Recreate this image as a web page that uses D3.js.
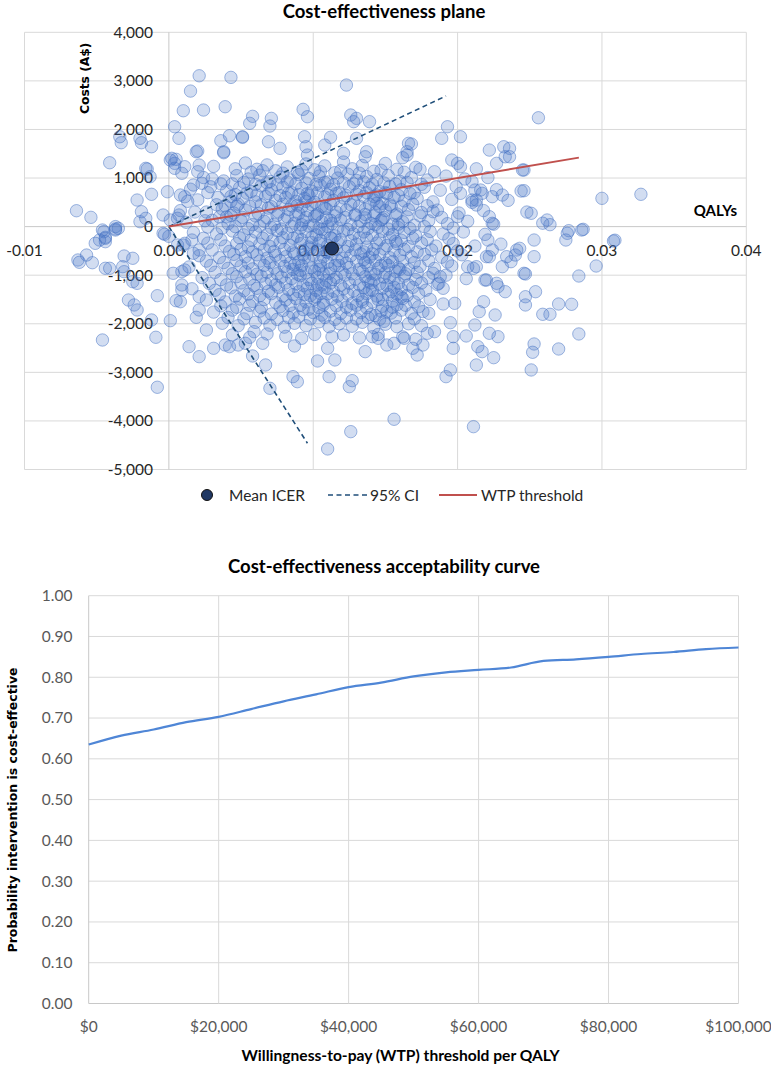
<!DOCTYPE html>
<html><head><meta charset="utf-8">
<script src="https://cdn.jsdelivr.net/npm/d3@7"></script>
<style>body{margin:0;background:#fff} svg{display:block}</style>
</head><body><svg id="c" width="771" height="1066"></svg>
<script>
// ---------------- DATA ----------------
// PSA iterations: [incremental QALYs, incremental costs (A$)]
const psaPoints = [
// upper / left outliers
[0.0021,3105],[0.0043,3072],[0.0015,2790],[0.0010,2385],[0.0024,2400],[0.0039,2468],[0.0058,2270],[0.0004,2056],[0.0007,1817],[-0.0034,1850],[-0.0033,1727],[-0.0020,1817],[-0.0019,1727],[-0.0012,1644],[-0.0041,1315],[0.0020,1556],[0.0036,1768],[0.0042,1871],[0.0038,1521],[0.0051,1838],[0.0001,1371],[0.0005,1385],[0.0004,1200],[0.0011,1233],[0.0009,1097],[-0.0015,1185],[-0.0013,1027],[0.0021,1268],[0.0020,1130],[0.0023,891],[0.0017,856],[-0.0001,718],[-0.0012,665],[-0.0022,547],[0.0008,650],[0.0011,615],[-0.0064,327],[-0.0054,191],[-0.0037,-49],[-0.0045,-105],[-0.0048,-276],[-0.0044,-241],[-0.0019,307],[-0.0020,101],[-0.0004,239],[0.0001,136],[0.0006,171],[-0.0004,-138],
[-0.0016,1200],[-0.0016,171],[0.0002,1406],[0.0004,1302],[0.0019,1541],[0.0007,239],[-0.0035,-35],[-0.0046,-70],[-0.0037,0],[-0.0044,-310],[-0.0063,-687],
[0.0013,520],[0.0027,700],[0.0033,450],[0.0018,300],[0.0025,120],[0.0036,880],[0.0043,620],[0.0030,980],[0.0047,420],[0.0040,200],
// upper middle / right
[0.0123,2914],[0.0126,2297],[0.0130,2228],[0.0139,2160],[0.0128,2160],[0.0093,2414],[0.0096,2262],[0.0056,2126],[0.0071,2228],[0.0070,2070],[0.0193,2056],[0.0202,1850],[0.0189,1817],[0.0256,2241],[0.0051,1850],[0.0038,1541],[0.0094,1850],[0.0095,1644],[0.0096,1473],[0.0069,1747],[0.0077,1611],[0.0112,1838],[0.0108,1679],[0.0121,1508],[0.0130,1817],[0.0166,1714],[0.0168,1700],[0.0165,1541],[0.0165,1473],[0.0162,1418],[0.0137,1541],[0.0136,1438],[0.0222,1576],[0.0232,1644],[0.0233,1438],[0.0227,1302],[0.0200,1302],[0.0202,1233],[0.0196,1371],[0.0246,1165],[0.0210,924],[0.0212,753],[0.0217,685],[0.0246,739],[0.0300,582],[0.0327,665],[0.0262,136],[0.0264,40],[0.0259,70],[0.0277,-84],[0.0287,-56],[0.0309,-280],[0.0174,1179],[0.0213,547],[0.0213,445],[0.0236,1438],[0.0236,1611],[0.0245,1165],[0.0244,733],
[0.0202,685],[0.0210,547],[0.0216,753],[0.0224,616],[0.0231,650],[0.0222,204],[0.0224,68],[0.0251,274],[0.0200,204],[0.0183,307],
// lower left
[-0.0062,-735],[-0.0057,-585],[-0.0053,-743],[-0.0051,-344],[-0.0044,-858],[-0.0041,-858],[-0.0044,-220],[-0.0037,-70],[-0.0031,-605],[-0.0025,-652],[-0.0032,-825],[-0.0031,-928],[-0.0025,-1134],[-0.0022,-1167],[-0.0028,-1511],[-0.0024,-1613],[-0.0022,-1716],[-0.0008,-1422],[-0.0012,-1922],[-0.0009,-2278],[-0.0046,-2334],[-0.0008,-3307],[0.0001,-1936],[0.0005,-1525],[0.0008,-1546],[0.0003,-961],[0.0009,-928],[0.0011,-893],[0.0009,-1202],[0.0009,-1305],[0.0014,-2471],[0.0021,-2677],[0.0019,-1867],[0.0021,-1716],[0.0026,-2128],[0.0021,-1443],[0.0031,-2505],[0.0039,-2437],[0.0042,-2471],[0.0048,-2437],[0.0053,-2402],[0.0058,-2663],
[-0.0003,-160],[0.0000,-200],[0.0011,-344],[0.0016,-276],[0.0021,-481],[0.0017,-549],[0.0006,-379],
// lower middle
[0.0110,-4577],[0.0126,-4221],[0.0156,-3966],[0.0211,-4118],[0.0086,-3089],[0.0089,-3192],[0.0070,-3328],[0.0111,-3089],[0.0127,-3171],[0.0125,-3295],[0.0067,-2848],[0.0192,-3089],[0.0195,-2951],[0.0213,-2848],[0.0225,-2698],[0.0115,-2745],[0.0103,-2766],[0.0110,-2505],[0.0136,-2574],[0.0087,-2457],[0.0065,-2402],[0.0059,-2163],[0.0172,-2643],[0.0169,-2505],[0.0176,-2437],[0.0197,-2505],[0.0197,-2266],[0.0206,-2251],[0.0214,-2471],[0.0217,-2574],[0.0222,-2196],[0.0228,-2266],[0.0212,-2025],[0.0195,-1977],[0.0184,-2163],[0.0179,-2196],[0.0163,-2299],[0.0156,-2402],[0.0151,-2437],[0.0145,-2299],[0.0141,-2266],[0.0226,-1819],[0.0215,-1751],[0.0218,-1546],[0.0233,-1340],[0.0227,-1167],[0.0220,-1099],[0.0198,-1579],[0.0190,-1593],[0.0180,-1784],[0.0188,-1031],[0.0187,-1167],[0.0207,-825],[0.0213,-825],[0.0220,-619],
[0.0221,-276],[0.0224,-481],[0.0234,-619],[0.0241,-481],[0.0253,-619],[0.0231,-825],[0.0246,-961],[0.0219,-1099],[0.0228,-1237],
// right
[0.0308,-296],[0.0296,-811],[0.0284,-1017],[0.0279,-1599],[0.0270,-1593],[0.0264,-1805],[0.0259,-1805],[0.0254,-1340],[0.0247,-1443],[0.0247,-1613],[0.0247,-975],[0.0284,-2210],[0.0253,-2416],[0.0252,-2587],[0.0270,-2519],[0.0251,-2951],[0.0275,-276],[0.0276,-138],[0.0286,-70],[0.0253,-276],[0.0243,-447],[0.0240,-585],[0.0237,-722],
// core cloud
[0.0031,1240],[0.0046,1190],[0.0053,1310],[0.0061,1180],[0.0068,1270],[0.0074,1150],[0.0082,1230],[0.0089,1120],[0.0095,1290],[0.0101,1170],[0.0108,1250],[0.0115,1110],[0.0121,1330],[0.0127,1190],[0.0134,1260],[0.0142,1140],[0.0150,1300],[0.0158,1180],[0.0171,1220],[0.0184,1130],[0.0213,1190],
[0.0024,1010],[0.0038,940],[0.0047,1050],[0.0055,980],[0.0063,1060],[0.0070,930],[0.0077,1020],[0.0084,960],[0.0090,1070],[0.0097,990],[0.0104,1040],[0.0110,920],[0.0117,1000],[0.0124,1080],[0.0130,950],[0.0137,1030],[0.0144,970],[0.0152,1050],[0.0160,930],[0.0168,1010],[0.0179,960],[0.0192,1040],[0.0205,980],[0.0221,1010],
[0.0015,770],[0.0029,820],[0.0040,740],[0.0049,800],[0.0057,720],[0.0064,840],[0.0071,760],[0.0079,810],[0.0085,700],[0.0092,790],[0.0099,730],[0.0105,850],[0.0112,770],[0.0118,700],[0.0125,820],[0.0132,740],[0.0139,800],[0.0146,720],[0.0153,830],[0.0161,760],[0.0170,700],[0.0177,810],[0.0188,750],[0.0199,820],[0.0227,760],
[0.0020,550],[0.0034,600],[0.0043,520],[0.0051,580],[0.0060,510],[0.0067,620],[0.0074,540],[0.0081,600],[0.0088,520],[0.0094,580],[0.0101,500],[0.0108,610],[0.0114,540],[0.0121,590],[0.0128,510],[0.0135,620],[0.0142,550],[0.0148,480],[0.0156,600],[0.0163,530],[0.0172,580],[0.0183,510],[0.0196,560],[0.0210,500],[0.0235,540],
[0.0008,330],[0.0026,300],[0.0037,360],[0.0045,280],[0.0053,340],[0.0062,270],[0.0069,380],[0.0076,300],[0.0083,350],[0.0090,270],[0.0096,330],[0.0103,260],[0.0109,370],[0.0116,300],[0.0123,340],[0.0129,250],[0.0136,360],[0.0143,290],[0.0150,330],[0.0158,260],[0.0166,350],[0.0175,290],[0.0186,340],[0.0201,280],[0.0218,330],[0.0248,300],
[0.0012,90],[0.0030,130],[0.0041,60],[0.0050,120],[0.0058,40],[0.0066,110],[0.0073,50],[0.0080,140],[0.0087,70],[0.0093,120],[0.0100,30],[0.0106,100],[0.0113,60],[0.0119,140],[0.0126,40],[0.0133,110],[0.0140,70],[0.0147,130],[0.0155,50],[0.0162,100],[0.0170,30],[0.0180,120],[0.0193,60],[0.0207,110],[0.0225,50],
[0.0017,-120],[0.0033,-150],[0.0044,-90],[0.0052,-170],[0.0060,-110],[0.0068,-160],[0.0075,-80],[0.0082,-140],[0.0089,-200],[0.0095,-100],[0.0102,-170],[0.0108,-120],[0.0115,-190],[0.0121,-90],[0.0128,-150],[0.0135,-110],[0.0141,-180],[0.0148,-100],[0.0155,-160],[0.0163,-120],[0.0171,-190],[0.0181,-100],[0.0190,-150],[0.0204,-110],[0.0219,-160],
[0.0010,-380],[0.0027,-340],[0.0039,-400],[0.0047,-350],[0.0055,-420],[0.0063,-360],[0.0070,-410],[0.0077,-330],[0.0084,-390],[0.0091,-350],[0.0097,-420],[0.0104,-340],[0.0110,-390],[0.0117,-330],[0.0124,-410],[0.0130,-360],[0.0137,-420],[0.0144,-340],[0.0151,-390],[0.0158,-350],[0.0166,-410],[0.0175,-340],[0.0185,-400],[0.0197,-350],[0.0212,-400],[0.0230,-360],
[0.0021,-600],[0.0035,-640],[0.0045,-570],[0.0053,-620],[0.0061,-580],[0.0068,-650],[0.0074,-590],[0.0081,-620],[0.0087,-560],[0.0094,-640],[0.0100,-590],[0.0107,-620],[0.0113,-570],[0.0120,-650],[0.0126,-600],[0.0133,-560],[0.0139,-630],[0.0146,-580],[0.0153,-640],[0.0160,-590],[0.0168,-620],[0.0177,-570],[0.0189,-630],[0.0203,-580],[0.0222,-620],
[0.0014,-830],[0.0029,-800],[0.0041,-860],[0.0050,-810],[0.0058,-870],[0.0066,-800],[0.0073,-850],[0.0080,-820],[0.0086,-880],[0.0092,-800],[0.0099,-850],[0.0105,-810],[0.0112,-870],[0.0118,-800],[0.0125,-840],[0.0132,-880],[0.0138,-810],[0.0145,-860],[0.0152,-800],[0.0159,-850],[0.0166,-880],[0.0174,-820],[0.0184,-860],[0.0196,-810],[0.0211,-860],
[0.0023,-1050],[0.0036,-1090],[0.0047,-1030],[0.0056,-1080],[0.0064,-1020],[0.0071,-1100],[0.0078,-1040],[0.0085,-1070],[0.0091,-1010],[0.0097,-1090],[0.0103,-1040],[0.0109,-1110],[0.0116,-1050],[0.0122,-1000],[0.0129,-1080],[0.0136,-1030],[0.0142,-1100],[0.0149,-1040],[0.0156,-1080],[0.0163,-1020],[0.0171,-1090],[0.0180,-1050],[0.0192,-1000],[0.0206,-1070],
[0.0016,-1280],[0.0032,-1310],[0.0043,-1260],[0.0052,-1320],[0.0061,-1270],[0.0069,-1330],[0.0076,-1250],[0.0083,-1300],[0.0090,-1340],[0.0096,-1270],[0.0102,-1310],[0.0108,-1250],[0.0114,-1330],[0.0121,-1280],[0.0128,-1320],[0.0135,-1260],[0.0141,-1310],[0.0148,-1270],[0.0154,-1340],[0.0161,-1290],[0.0169,-1250],[0.0178,-1310],[0.0190,-1270],
[0.0026,-1510],[0.0039,-1550],[0.0049,-1490],[0.0058,-1540],[0.0066,-1500],[0.0074,-1560],[0.0081,-1510],[0.0088,-1480],[0.0095,-1550],[0.0101,-1500],[0.0107,-1560],[0.0113,-1490],[0.0120,-1530],[0.0127,-1580],[0.0134,-1500],[0.0141,-1550],[0.0148,-1490],[0.0155,-1530],[0.0162,-1480],[0.0170,-1550],[0.0181,-1500],
[0.0031,-1760],[0.0044,-1720],[0.0054,-1790],[0.0063,-1740],[0.0071,-1800],[0.0079,-1730],[0.0086,-1780],[0.0093,-1710],[0.0100,-1770],[0.0106,-1820],[0.0112,-1740],[0.0119,-1790],[0.0126,-1720],[0.0133,-1770],[0.0140,-1810],[0.0147,-1740],[0.0154,-1780],[0.0161,-1720],[0.0168,-1790],[0.0176,-1750],
[0.0037,-1990],[0.0048,-2040],[0.0060,-1970],[0.0070,-2030],[0.0080,-2070],[0.0087,-1990],[0.0095,-2040],[0.0104,-1960],[0.0111,-2060],[0.0118,-2000],[0.0127,-2050],[0.0134,-1970],[0.0142,-2080],[0.0150,-2010],[0.0158,-2060],[0.0166,-2000],[0.0175,-2040],
[0.0044,-2230],[0.0056,-2280],[0.0068,-2210],[0.0081,-2260],[0.0092,-2300],[0.0101,-2220],[0.0113,-2270],[0.0121,-2230],[0.0132,-2290],[0.0145,-2220],[0.0162,-2270],[0.0171,-2320],
// core cloud, in-between rows
[0.0057,1120],[0.0065,1150],[0.0079,1100],[0.0092,1160],[0.0105,1130],[0.0119,1150],[0.0132,1100],[0.0147,1160],[0.0163,1120],
[0.0044,880],[0.0052,910],[0.0060,870],[0.0068,900],[0.0075,860],[0.0082,920],[0.0088,880],[0.0095,900],[0.0102,870],[0.0108,910],[0.0114,860],[0.0121,900],[0.0128,880],[0.0135,920],[0.0141,870],[0.0149,900],[0.0157,880],[0.0165,910],[0.0175,870],
[0.0046,660],[0.0054,690],[0.0061,650],[0.0069,680],[0.0077,640],[0.0083,690],[0.0090,660],[0.0097,640],[0.0103,690],[0.0110,650],[0.0116,680],[0.0123,640],[0.0130,670],[0.0137,700],[0.0144,650],[0.0151,680],[0.0159,640],[0.0167,680],
[0.0039,430],[0.0048,460],[0.0056,420],[0.0064,450],[0.0071,410],[0.0079,460],[0.0085,430],[0.0092,400],[0.0099,450],[0.0106,420],[0.0112,460],[0.0119,410],[0.0126,450],[0.0132,420],[0.0139,460],[0.0146,410],[0.0153,450],[0.0161,420],[0.0169,460],[0.0179,430],
[0.0035,200],[0.0043,230],[0.0051,190],[0.0060,220],[0.0068,180],[0.0075,230],[0.0082,200],[0.0088,240],[0.0095,190],[0.0102,230],[0.0109,180],[0.0115,220],[0.0122,190],[0.0129,230],[0.0136,180],[0.0142,220],[0.0149,190],[0.0157,230],[0.0165,200],[0.0174,220],[0.0189,190],
[0.0027,-10],[0.0037,-30],[0.0046,0],[0.0055,-40],[0.0063,10],[0.0071,-20],[0.0078,-50],[0.0085,0],[0.0091,-30],[0.0097,10],[0.0104,-40],[0.0110,0],[0.0117,-30],[0.0124,-60],[0.0131,0],[0.0138,-40],[0.0145,-10],[0.0152,-50],[0.0159,-20],[0.0167,-40],[0.0177,0],[0.0197,-30],
[0.0024,-240],[0.0036,-270],[0.0049,-230],[0.0057,-280],[0.0065,-240],[0.0072,-290],[0.0079,-230],[0.0092,-270],[0.0099,-220],[0.0105,-280],[0.0112,-230],[0.0119,-270],[0.0126,-290],[0.0132,-230],[0.0146,-270],[0.0153,-230],[0.0161,-280],[0.0169,-240],[0.0179,-270],[0.0194,-250],
[0.0030,-480],[0.0042,-510],[0.0050,-470],[0.0058,-520],[0.0066,-480],[0.0073,-510],[0.0080,-470],[0.0086,-520],[0.0093,-490],[0.0103,-480],[0.0110,-530],[0.0116,-470],[0.0122,-510],[0.0129,-480],[0.0135,-520],[0.0142,-470],[0.0156,-500],[0.0163,-470],[0.0172,-520],[0.0182,-480],[0.0200,-500],
[0.0026,-710],[0.0038,-740],[0.0047,-700],[0.0055,-750],[0.0063,-710],[0.0070,-740],[0.0077,-700],[0.0084,-750],[0.0090,-720],[0.0097,-690],[0.0110,-740],[0.0117,-700],[0.0123,-750],[0.0130,-710],[0.0136,-740],[0.0143,-700],[0.0150,-750],[0.0162,-710],[0.0170,-740],[0.0180,-700],[0.0193,-730],
[0.0032,-940],[0.0044,-970],[0.0053,-930],[0.0061,-980],[0.0068,-940],[0.0075,-970],[0.0082,-930],[0.0089,-980],[0.0095,-950],[0.0101,-920],[0.0107,-980],[0.0120,-940],[0.0127,-970],[0.0134,-930],[0.0143,-980],[0.0150,-950],[0.0157,-920],[0.0164,-970],[0.0172,-940],[0.0183,-960],
[0.0028,-1170],[0.0040,-1200],[0.0050,-1160],[0.0059,-1210],[0.0067,-1170],[0.0074,-1200],[0.0081,-1160],[0.0093,-1210],[0.0099,-1170],[0.0106,-1200],[0.0112,-1160],[0.0119,-1210],[0.0125,-1170],[0.0132,-1200],[0.0140,-1160],[0.0151,-1210],[0.0159,-1170],[0.0166,-1200],[0.0175,-1160],[0.0186,-1190],
[0.0035,-1400],[0.0046,-1430],[0.0055,-1390],[0.0063,-1420],[0.0071,-1380],[0.0079,-1430],[0.0086,-1400],[0.0098,-1420],[0.0105,-1380],[0.0117,-1430],[0.0124,-1390],[0.0131,-1420],[0.0137,-1380],[0.0144,-1430],[0.0158,-1390],[0.0165,-1420],[0.0173,-1380],
[0.0036,-1630],[0.0047,-1660],[0.0056,-1620],[0.0064,-1670],[0.0077,-1650],[0.0091,-1620],[0.0104,-1670],[0.0116,-1630],[0.0123,-1660],[0.0130,-1620],[0.0137,-1670],[0.0148,-1640],[0.0155,-1660],[0.0164,-1620],[0.0173,-1650],
[0.0041,-1870],[0.0052,-1900],[0.0066,-1880],[0.0075,-1910],[0.0083,-1870],[0.0098,-1900],[0.0108,-1870],[0.0115,-1910],[0.0123,-1880],[0.0130,-1900],[0.0138,-1870],[0.0146,-1910],[0.0157,-1880],[0.0170,-1900],
// dense clusters
[0.0086,-240],[0.0092,40],[0.0098,-460],[0.0105,-720],[0.0111,-960],[0.0088,-1180],[0.0094,-1400],[0.0107,-1610],[0.0113,-250],[0.0101,210],[0.0089,440],[0.0096,680],[0.0109,-520],[0.0115,-800],[0.0091,-900],[0.0103,-1190],[0.0110,-1380],[0.0097,-1700],[0.0084,-1620],[0.0106,-60],[0.0099,-330],[0.0093,-580],[0.0087,-790],[0.0114,-1090],[0.0102,-1450],[0.0090,-1860],[0.0108,380],[0.0095,520],[0.0112,130],[0.0104,-880],
[0.0137,-240],[0.0143,40],[0.0149,-460],[0.0155,-720],[0.0140,-960],[0.0146,-1180],[0.0152,-1400],[0.0158,-1610],[0.0136,250],[0.0144,480],[0.0150,700],[0.0141,-560],[0.0147,-800],[0.0153,-1050],[0.0139,-1300],[0.0145,-1500],[0.0151,-1750],[0.0157,-300],[0.0160,-880],[0.0138,-1120],[0.0148,160],[0.0154,420],[0.0142,620],[0.0135,-680],[0.0156,-1250],[0.0149,-1950],[0.0161,-1450],[0.0134,-1550],[0.0143,-1830],[0.0159,50]
];
const meanIcer = [0.0113, -450];
const ci95Upper = [[0, 0], [0.0192, 2690]];
const ci95Lower = [[0, 0], [0.0096, -4460]];
const wtpThreshold = [[0, 0], [0.0284, 1420]];
const planeXTicks = [-0.01, 0, 0.01, 0.02, 0.03, 0.04];
const planeYTicks = [-5000, -4000, -3000, -2000, -1000, 0, 1000, 2000, 3000, 4000];
const legendLabels = ["Mean ICER", "95% CI", "WTP threshold"];

// CEAC
const ceacWtp  = [0, 5000, 10000, 15000, 20000, 25000, 30000, 35000, 40000, 45000, 50000, 55000, 60000, 65000, 70000, 75000, 80000, 85000, 90000, 95000, 100000];
const ceacProb = [0.635, 0.657, 0.672, 0.690, 0.703, 0.722, 0.741, 0.758, 0.776, 0.787, 0.802, 0.812, 0.818, 0.824, 0.840, 0.844, 0.850, 0.857, 0.862, 0.869, 0.873];
const ceacXTicks = [0, 20000, 40000, 60000, 80000, 100000];
const ceacYTicks = [0, 0.1, 0.2, 0.3, 0.4, 0.5, 0.6, 0.7, 0.8, 0.9, 1.0];

// ---------------- DRAW ----------------
const loc = d3.formatLocale({decimal: ".", thousands: ",", grouping: [3], currency: ["$", ""], minus: "-"});
const svg = d3.select("#c");
const LATO = "Lato, 'Open Sans', sans-serif";
const DJ = "'DejaVu Sans', Verdana, sans-serif";
const gridC = "#D9D9D9", axisC = "#C8C8C8";

// ---- plane ----
const x = d3.scaleLinear().domain([-0.01, 0.04]).range([24.5, 746.3]);
const y = d3.scaleLinear().domain([-5000, 4000]).range([469.5, 32.3]);
const gP = svg.append("g");

gP.selectAll("line.h").data(planeYTicks).join("line")
  .attr("x1", x(-0.01)).attr("x2", x(0.04)).attr("y1", d => y(d)).attr("y2", d => y(d))
  .attr("stroke", d => d === 0 ? axisC : gridC).attr("stroke-width", 1);
gP.selectAll("line.v").data(planeXTicks).join("line")
  .attr("y1", y(-5000)).attr("y2", y(4000)).attr("x1", d => x(d)).attr("x2", d => x(d))
  .attr("stroke", d => d === 0 ? axisC : gridC).attr("stroke-width", 1);

const fX = loc.format(".2f"), fY = loc.format(",");
gP.selectAll("text.xt").data(planeXTicks).join("text")
  .attr("x", d => x(d)).attr("y", 255.5).attr("text-anchor", "middle")
  .attr("font-family", LATO).attr("font-size", 15.5).attr("fill", "#262626").text(d => fX(d));
gP.selectAll("text.yt").data(planeYTicks).join("text")
  .attr("x", 153).attr("y", d => y(d) + 5.4).attr("text-anchor", "end")
  .attr("font-family", LATO).attr("font-size", 15.5).attr("fill", "#262626").text(d => fY(d));

gP.append("text").attr("x", 384).attr("y", 18).attr("text-anchor", "middle")
  .attr("font-family", LATO).attr("font-weight", 700).attr("font-size", 18.5).attr("fill", "#000")
  .text("Cost-effectiveness plane");
gP.append("text").attr("x", 737).attr("y", 216).attr("text-anchor", "end")
  .attr("font-family", LATO).attr("font-weight", 700).attr("font-size", 15).attr("fill", "#000")
  .text("QALYs");
gP.append("text").attr("transform", "translate(84.5,78.3) rotate(-90)").attr("text-anchor", "middle")
  .attr("dominant-baseline", "central")
  .attr("font-family", DJ).attr("font-weight", 700).attr("font-size", 12.3).attr("fill", "#000")
  .text("Costs (A$)");

gP.append("g").selectAll("circle").data(psaPoints).join("circle")
  .attr("cx", d => x(d[0])).attr("cy", d => y(d[1])).attr("r", 6.2)
  .attr("fill", "#4472C4").attr("fill-opacity", 0.24)
  .attr("stroke", "#4472C4").attr("stroke-opacity", 0.5).attr("stroke-width", 1);

const ln = d3.line().x(d => x(d[0])).y(d => y(d[1]));
[ci95Upper, ci95Lower].forEach(seg => gP.append("path").attr("d", ln(seg))
  .attr("fill", "none").attr("stroke", "#1F4E79").attr("stroke-width", 1.6).attr("stroke-dasharray", "5,3.5"));
gP.append("path").attr("d", ln(wtpThreshold)).attr("fill", "none").attr("stroke", "#C0504D").attr("stroke-width", 2);
gP.append("circle").attr("cx", x(meanIcer[0])).attr("cy", y(meanIcer[1])).attr("r", 6.5)
  .attr("fill", "#203864").attr("stroke", "#111").attr("stroke-width", 1);

// legend
const lg = svg.append("g").attr("font-family", LATO).attr("font-size", 15.5).attr("fill", "#262626");
lg.append("circle").attr("cx", 207).attr("cy", 495).attr("r", 5.5).attr("fill", "#203864").attr("stroke", "#111");
lg.append("text").attr("x", 229).attr("y", 500.5).text(legendLabels[0]);
lg.append("line").attr("x1", 328).attr("x2", 367).attr("y1", 495).attr("y2", 495)
  .attr("stroke", "#1F4E79").attr("stroke-width", 1.6).attr("stroke-dasharray", "5,3.5");
lg.append("text").attr("x", 370).attr("y", 500.5).text(legendLabels[1]);
lg.append("line").attr("x1", 439).attr("x2", 477).attr("y1", 495).attr("y2", 495)
  .attr("stroke", "#C0504D").attr("stroke-width", 2);
lg.append("text").attr("x", 481).attr("y", 500.5).text(legendLabels[2]);

// ---- CEAC ----
const x2 = d3.scaleLinear().domain([0, 100000]).range([88.7, 738.5]);
const y2 = d3.scaleLinear().domain([0, 1]).range([1003.5, 595.7]);
const gC = svg.append("g");
gC.selectAll("line.h").data(ceacYTicks).join("line")
  .attr("x1", x2(0)).attr("x2", x2(100000)).attr("y1", d => y2(d)).attr("y2", d => y2(d))
  .attr("stroke", d => d === 0 ? axisC : gridC).attr("stroke-width", 1);
gC.selectAll("line.v").data(ceacXTicks).join("line")
  .attr("y1", y2(0)).attr("y2", y2(1)).attr("x1", d => x2(d)).attr("x2", d => x2(d))
  .attr("stroke", d => d === 0 ? axisC : gridC).attr("stroke-width", 1);
const fP = loc.format(".2f"), fD = loc.format("$,");
gC.selectAll("text.yt").data(ceacYTicks).join("text")
  .attr("x", 72.5).attr("y", d => y2(d) + 5.4).attr("text-anchor", "end")
  .attr("font-family", LATO).attr("font-size", 15.5).attr("fill", "#595959").text(d => fP(d));
gC.selectAll("text.xt").data(ceacXTicks).join("text")
  .attr("x", d => x2(d)).attr("y", 1031.5).attr("text-anchor", "middle")
  .attr("font-family", LATO).attr("font-size", 15.5).attr("fill", "#595959").text(d => fD(d));
gC.append("path").datum(ceacWtp.map((w, i) => [w, ceacProb[i]]))
  .attr("d", d3.line().x(d => x2(d[0])).y(d => y2(d[1])).curve(d3.curveMonotoneX))
  .attr("fill", "none").attr("stroke", "#4F86D6").attr("stroke-width", 2.2);
gC.append("text").attr("x", 384).attr("y", 572.5).attr("text-anchor", "middle")
  .attr("font-family", LATO).attr("font-weight", 700).attr("font-size", 18.5).attr("fill", "#000")
  .text("Cost-effectiveness acceptability curve");
gC.append("text").attr("x", 400.5).attr("y", 1061).attr("text-anchor", "middle")
  .attr("font-family", LATO).attr("font-weight", 700).attr("font-size", 15.6).attr("fill", "#000")
  .text("Willingness-to-pay (WTP) threshold per QALY");
gC.append("text").attr("transform", "translate(12.5,810) rotate(-90)").attr("text-anchor", "middle")
  .attr("dominant-baseline", "central")
  .attr("font-family", DJ).attr("font-weight", 700).attr("font-size", 12.5).attr("fill", "#000")
  .text("Probability intervention is cost-effective");
</script></body></html>
